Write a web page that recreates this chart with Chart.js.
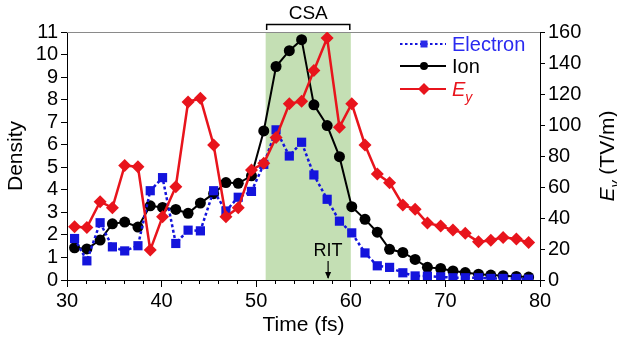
<!DOCTYPE html>
<html>
<head>
<meta charset="utf-8">
<script src="https://cdn.jsdelivr.net/npm/chart.js@4.4.0/dist/chart.umd.min.js"></script>
<style>
  html, body { margin: 0; padding: 0; background: #fff; }
  #wrap { width: 617px; height: 344px; }
</style>
</head>
<body>
<div id="wrap"><canvas id="chart" width="617" height="344"></canvas></div>
<script>
// sample times (fs)
const TIME = [30.8, 32.1, 33.5, 34.8, 36.1, 37.5, 38.8, 40.1, 41.5, 42.8, 44.1, 45.5, 46.8,
  48.1, 49.5, 50.8, 52.1, 53.5, 54.8, 56.1, 57.5, 58.8, 60.1, 61.5, 62.8, 64.1, 65.5,
  66.8, 68.1, 69.5, 70.8, 72.1, 73.5, 74.8, 76.1, 77.5, 78.8];

const ELECTRON = [1.84, 0.85, 2.54, 1.47, 1.29, 1.52, 3.96, 4.54, 1.62, 2.21, 2.18, 3.96, 3.06,
  3.67, 3.93, 5.13, 6.66, 5.50, 6.11, 4.66, 3.58, 2.61, 2.09, 1.20, 0.63, 0.56, 0.32,
  0.18, 0.17, 0.14, 0.10, 0.10, 0.10, 0.07, 0.07, 0.07, 0.04];

const ION = [1.43, 1.38, 1.77, 2.49, 2.57, 2.35, 3.29, 3.22, 3.13, 2.96, 3.41, 3.83, 4.32,
  4.29, 4.62, 6.61, 9.47, 10.17, 10.66, 7.77, 6.85, 5.47, 3.25, 2.69, 2.12, 1.36, 1.22,
  0.91, 0.56, 0.51, 0.40, 0.33, 0.26, 0.22, 0.19, 0.16, 0.13];

// E_y in TV/m (right axis)
const EY = [34.3, 33.9, 50.5, 46.6, 73.8, 73.1, 19.3, 40.8, 60.2, 114.8, 117.3, 87.1, 40.8,
  46.6, 71.0, 75.3, 91.9, 113.7, 115.4, 135.2, 156.1, 98.6, 113.7, 87.1, 68.4, 62.8, 48.4,
  45.6, 36.7, 34.8, 32.2, 30.1, 24.6, 25.7, 27.5, 26.4, 24.2];

const CSA_RANGE = [51, 60];
const RIT_TIME = 57.6;

const FONT = '"Liberation Sans", Arial, sans-serif';
const BLUE = "#1414dc";
const RED = "#e8141c";

const pts = (ys) => TIME.map((t, i) => ({ x: t, y: ys[i] }));

function drawParts(ctx, parts, x, y, align){
  let total = 0;
  parts.forEach(p => {
    ctx.font = p.font;
    p.w = ctx.measureText(p.t).width;
    total += p.w;
  });
  let cx = align === "center" ? x - total / 2 : x;
  ctx.textAlign = "left";
  ctx.textBaseline = "alphabetic";
  parts.forEach(p => {
    ctx.font = p.font;
    ctx.fillText(p.t, cx, y + p.dy);
    cx += p.w;
  });
}

function eyParts(size, suffix){
  return [
    { t: "E", font: `italic ${size}px ${FONT}`, dy: 0 },
    { t: "y", font: `italic ${Math.round(size * 0.68)}px ${FONT}`, dy: size * 0.3 },
    { t: suffix, font: `${size}px ${FONT}`, dy: 0 }
  ];
}

const decor = {
  id: "decor",
  beforeDatasetsDraw(chart){
    const { ctx, chartArea, scales } = chart;
    const x0 = scales.x.getPixelForValue(CSA_RANGE[0]);
    const x1 = scales.x.getPixelForValue(CSA_RANGE[1]);
    ctx.save();
    ctx.fillStyle = "#c4dfb4";
    ctx.fillRect(x0, chartArea.top, x1 - x0, chartArea.bottom - chartArea.top);

    // top frame line
    ctx.strokeStyle = "#8a8a8a";
    ctx.lineWidth = 1;
    ctx.beginPath();
    ctx.moveTo(chartArea.left, chartArea.top + 0.5);
    ctx.lineTo(chartArea.right, chartArea.top + 0.5);
    ctx.stroke();

    // minor ticks on the time axis
    ctx.strokeStyle = "#000";
    ctx.beginPath();
    for(let t = 32; t < 80; t += 2){
      if(t % 10 === 0) continue;
      const px = Math.round(scales.x.getPixelForValue(t)) + 0.5;
      ctx.moveTo(px, chartArea.bottom);
      ctx.lineTo(px, chartArea.bottom + 4);
    }
    ctx.stroke();
    ctx.restore();
  },
  afterDatasetsDraw(chart){
    const { ctx, chartArea, scales } = chart;
    const x0 = scales.x.getPixelForValue(CSA_RANGE[0]);
    const x1 = scales.x.getPixelForValue(CSA_RANGE[1]);
    ctx.save();

    // CSA bracket
    ctx.strokeStyle = "#000";
    ctx.lineWidth = 1.5;
    ctx.beginPath();
    ctx.moveTo(x0 + 1, chartArea.top - 2);
    ctx.lineTo(x0 + 1, chartArea.top - 7.5);
    ctx.lineTo(x1 - 1, chartArea.top - 7.5);
    ctx.lineTo(x1 - 1, chartArea.top - 2);
    ctx.stroke();
    ctx.fillStyle = "#000";
    ctx.font = `19px ${FONT}`;
    ctx.textAlign = "center";
    ctx.textBaseline = "alphabetic";
    ctx.fillText("CSA", (x0 + x1) / 2, 19);

    // RIT marker
    const rx = scales.x.getPixelForValue(RIT_TIME);
    ctx.font = `18px ${FONT}`;
    ctx.fillText("RIT", rx, 256);
    ctx.lineWidth = 1.2;
    ctx.beginPath();
    ctx.moveTo(rx, 261);
    ctx.lineTo(rx, chartArea.bottom - 2);
    ctx.stroke();
    ctx.beginPath();
    ctx.moveTo(rx - 3, chartArea.bottom - 8);
    ctx.lineTo(rx, chartArea.bottom - 1);
    ctx.lineTo(rx + 3, chartArea.bottom - 8);
    ctx.closePath();
    ctx.fill();

    // legend
    const lx0 = 400, lx1 = 446, mx = 424;
    ctx.lineWidth = 2.2;
    ctx.strokeStyle = BLUE;
    ctx.setLineDash([2.5, 2.5]);
    ctx.beginPath(); ctx.moveTo(lx0, 44); ctx.lineTo(lx1, 44); ctx.stroke();
    ctx.setLineDash([]);
    ctx.fillStyle = "#2a2ae8";
    ctx.fillRect(mx - 3.5, 40.5, 7, 7);

    ctx.strokeStyle = "#000";
    ctx.beginPath(); ctx.moveTo(lx0, 66); ctx.lineTo(lx1, 66); ctx.stroke();
    ctx.fillStyle = "#000";
    ctx.beginPath(); ctx.arc(mx, 66, 4, 0, Math.PI * 2); ctx.fill();

    ctx.strokeStyle = RED;
    ctx.beginPath(); ctx.moveTo(lx0, 89); ctx.lineTo(lx1, 89); ctx.stroke();
    ctx.fillStyle = RED;
    ctx.beginPath();
    ctx.moveTo(mx, 83); ctx.lineTo(mx + 6, 89); ctx.lineTo(mx, 95); ctx.lineTo(mx - 6, 89);
    ctx.closePath(); ctx.fill();

    ctx.textAlign = "left";
    ctx.font = `20px ${FONT}`;
    ctx.fillStyle = "#2a2af0";
    ctx.fillText("Electron", 452, 51);
    ctx.fillStyle = "#000";
    ctx.fillText("Ion", 452, 73);
    ctx.fillStyle = RED;
    drawParts(ctx, eyParts(20, ""), 452, 96, "left");

    // right axis title
    ctx.fillStyle = "#000";
    ctx.translate(614, (chartArea.top + chartArea.bottom) / 2);
    ctx.rotate(-Math.PI / 2);
    drawParts(ctx, eyParts(21, " (TV/m)"), 0, 0, "center");
    ctx.restore();
  }
};

new Chart(document.getElementById("chart"), {
  type: "line",
  data: {
    datasets: [
      {
        label: "E_y",
        data: pts(EY),
        yAxisID: "y2",
        borderColor: RED,
        backgroundColor: RED,
        borderWidth: 2.5,
        pointStyle: "rectRot",
        pointRadius: 6.5,
        pointBorderWidth: 0,
        order: 0
      },
      {
        label: "Electron",
        data: pts(ELECTRON),
        yAxisID: "y",
        borderColor: BLUE,
        backgroundColor: BLUE,
        borderWidth: 2.5,
        borderDash: [3, 2.5],
        pointStyle: "rect",
        pointRadius: 6.5,
        pointBorderWidth: 0,
        order: 1
      },
      {
        label: "Ion",
        data: pts(ION),
        yAxisID: "y",
        borderColor: "#000",
        backgroundColor: "#000",
        borderWidth: 2,
        pointStyle: "circle",
        pointRadius: 5.5,
        pointBorderWidth: 0,
        order: 2
      }
    ]
  },
  options: {
    responsive: false,
    animation: false,
    devicePixelRatio: 1,
    layout: { padding: { top: 32, left: 0, right: 0, bottom: 0 } },
    elements: { line: { tension: 0 } },
    plugins: {
      legend: { display: false },
      tooltip: { enabled: false }
    },
    scales: {
      x: {
        type: "linear",
        position: "bottom",
        min: 30,
        max: 80,
        ticks: { stepSize: 10, color: "#000", font: { family: FONT, size: 20 }, padding: 2, maxRotation: 0, autoSkip: false },
        grid: { drawOnChartArea: false, tickLength: 7, color: "#000" },
        border: { color: "#000", width: 1 },
        title: { display: true, text: "Time (fs)", color: "#000", font: { family: FONT, size: 21 }, padding: { top: 0, bottom: 6 } },
        afterFit(scale){ scale.height = 64; }
      },
      y: {
        position: "left",
        min: 0,
        max: 11,
        ticks: { stepSize: 1, color: "#000", font: { family: FONT, size: 20 }, padding: 3, autoSkip: false },
        grid: { drawOnChartArea: false, tickLength: 6, color: "#000" },
        border: { color: "#000", width: 1 },
        title: { display: true, text: "Density", color: "#000", font: { family: FONT, size: 21 }, padding: { top: 4, bottom: 0 } },
        afterFit(scale){ scale.width = 67; }
      },
      y2: {
        position: "right",
        min: 0,
        max: 160,
        ticks: { stepSize: 20, color: "#000", font: { family: FONT, size: 20 }, padding: 3, autoSkip: false },
        grid: { drawOnChartArea: false, tickLength: 5, color: "#000" },
        border: { color: "#000", width: 1 },
        afterFit(scale){ scale.width = 77; }
      }
    }
  },
  plugins: [decor]
});
</script>
</body>
</html>
